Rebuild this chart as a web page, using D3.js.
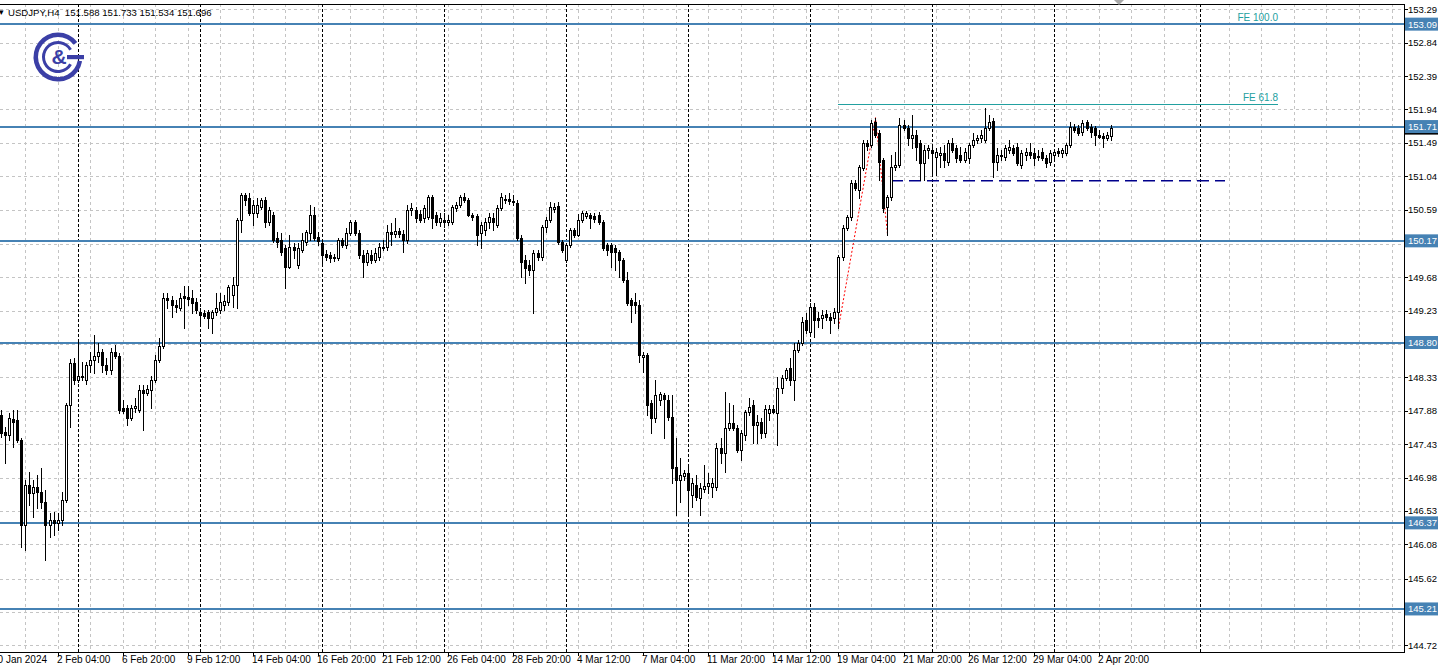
<!DOCTYPE html>
<html><head><meta charset="utf-8">
<script src="https://cdn.jsdelivr.net/npm/d3@7"></script>
<style>html,body{margin:0;padding:0;background:#fff;overflow:hidden}svg{display:block}text{font-family:"Liberation Sans",Arial,sans-serif}</style>
</head><body><svg id="c" width="1438" height="671"></svg>
<script>
// ---------------- data ----------------
const symbolTitle = "USDJPY,H4";
const lastOHLC = ["151.588", "151.733", "151.534", "151.696"];

const open = [
147.78,147.76,147.82,147.59,147.55,147.77,147.76,147.49,146.34,146.88,
146.77,146.85,146.79,146.65,146.34,146.41,146.37,146.41,146.68,147.96,
148.52,148.30,148.35,148.30,148.50,148.56,148.62,148.67,148.50,148.43,
148.67,148.62,147.92,147.92,147.78,147.92,147.89,148.16,148.12,148.16,
148.30,148.56,148.75,149.40,149.37,149.31,149.27,149.43,149.41,149.40,
149.35,149.21,149.20,149.21,149.13,149.21,149.24,149.31,149.35,149.44,
149.57,150.45,150.79,150.75,150.55,150.55,150.63,150.72,150.42,150.52,
150.21,150.18,150.07,149.82,150.09,149.84,150.05,150.15,150.28,150.52,
150.22,150.14,149.99,149.98,149.94,149.94,150.18,150.11,150.28,150.42,
150.28,149.98,149.88,149.98,149.91,149.95,150.09,150.09,150.29,150.26,
150.30,150.26,150.18,150.59,150.59,150.53,150.48,150.49,150.76,150.52,
150.42,150.45,150.42,150.42,150.61,150.65,150.76,150.72,150.52,150.50,
150.28,150.32,150.42,150.48,150.38,150.61,150.72,150.73,150.71,150.68,
150.21,149.91,149.84,149.78,150.01,149.95,150.36,150.45,150.60,150.64,
150.15,149.91,150.11,150.32,150.25,150.45,150.50,150.52,150.50,150.52,
150.42,150.11,150.11,150.07,150.02,149.91,149.64,149.37,149.35,149.31,
148.60,148.63,147.99,147.78,148.03,148.09,148.03,147.80,147.12,146.95,
147.00,147.04,146.75,146.88,146.70,146.83,146.87,146.85,146.85,147.38,
147.31,147.65,147.72,147.65,147.35,147.55,147.86,147.96,147.69,147.73,
147.58,147.85,147.90,147.85,148.19,148.32,148.46,148.30,148.70,148.79,
149.10,148.94,149.28,149.13,149.13,149.18,149.14,149.13,149.21,149.95,
150.34,150.49,150.95,150.86,151.15,151.49,151.46,151.77,151.62,151.26,
150.63,150.76,151.16,151.19,151.73,151.69,151.56,151.60,151.49,151.22,
151.39,151.39,151.30,151.33,151.35,151.23,151.49,151.42,151.33,151.26,
151.29,151.46,151.53,151.56,151.53,151.69,151.78,151.23,151.33,151.30,
151.39,151.42,151.43,151.19,151.33,151.37,151.35,151.30,151.37,151.29,
151.23,151.33,151.38,151.35,151.35,151.46,151.70,151.69,151.64,151.77,
151.70,151.69,151.60,151.58,151.56,151.588];

const high = [
147.86,147.89,147.89,147.66,147.85,147.89,147.89,147.51,146.95,147.05,
146.95,147.01,147.11,146.81,146.50,146.52,146.50,146.79,147.99,148.58,
148.59,148.83,148.54,148.54,148.67,148.90,148.79,148.71,148.59,148.73,
148.77,148.66,148.03,147.96,147.96,148.05,148.23,148.23,148.23,148.35,
148.63,148.86,149.47,149.47,149.43,149.37,149.47,149.56,149.56,149.51,
149.40,149.27,149.24,149.24,149.24,149.47,149.47,149.44,149.57,149.68,
150.48,150.81,150.81,150.81,150.72,150.75,150.75,150.76,150.63,150.56,
150.29,150.28,150.11,150.25,150.14,150.14,150.28,150.32,150.65,150.63,
150.29,150.18,150.05,150.02,149.99,150.21,150.21,150.34,150.45,150.45,
150.32,150.05,150.05,150.05,150.07,150.14,150.18,150.38,150.41,150.48,
150.34,150.32,150.65,150.68,150.63,150.59,150.65,150.79,150.79,150.56,
150.55,150.55,150.52,150.65,150.69,150.79,150.81,150.75,150.55,150.53,
150.42,150.48,150.55,150.55,150.65,150.81,150.79,150.81,150.79,150.72,
150.25,149.98,149.91,150.05,150.05,150.38,150.49,150.69,150.68,150.69,
150.18,150.14,150.34,150.34,150.53,150.57,150.57,150.55,150.55,150.56,
150.45,150.14,150.14,150.11,150.05,149.94,149.75,149.40,149.47,149.37,
148.67,148.66,148.03,148.30,148.13,148.12,148.09,148.09,147.51,147.24,
147.08,147.12,146.97,147.01,146.91,147.15,147.04,146.97,147.45,147.51,
148.13,147.99,147.96,147.69,147.62,147.89,148.05,148.03,147.82,147.78,
147.96,147.96,147.96,148.34,148.36,148.46,148.59,148.79,148.83,149.14,
149.20,149.33,149.33,149.21,149.24,149.24,149.20,149.27,149.98,150.38,
150.52,150.99,150.99,151.19,151.53,151.53,151.80,151.83,151.66,151.29,
150.79,151.33,151.37,151.83,151.80,151.73,151.87,151.66,151.53,151.46,
151.46,151.46,151.42,151.43,151.46,151.53,151.56,151.46,151.43,151.42,
151.49,151.62,151.60,151.66,151.96,151.87,151.83,151.42,151.39,151.46,
151.53,151.46,151.49,151.39,151.42,151.49,151.42,151.39,151.42,151.33,
151.39,151.39,151.42,151.42,151.49,151.77,151.74,151.73,151.80,151.80,
151.74,151.72,151.66,151.62,151.64,151.733];

const low = [
147.65,147.69,147.53,147.18,147.49,147.39,147.46,146.04,146.00,146.61,
146.45,146.57,146.57,145.87,146.18,146.21,146.27,146.34,146.65,147.66,
148.24,148.27,148.30,148.24,148.40,148.39,148.54,148.40,148.38,148.38,
148.59,147.85,147.85,147.69,147.76,147.86,147.86,147.62,148.09,147.92,
148.27,148.54,148.73,149.27,149.14,149.21,149.24,149.00,149.31,149.20,
149.20,149.06,149.13,149.00,148.93,149.17,149.20,149.24,149.31,149.28,
149.27,150.29,150.65,150.52,150.38,150.49,150.60,150.36,150.38,150.15,
150.09,149.98,149.53,149.80,149.94,149.80,150.02,150.11,150.18,150.18,
150.11,149.87,149.91,149.88,149.90,149.91,150.09,150.07,150.25,150.25,
149.94,149.68,149.84,149.87,149.88,149.91,150.05,150.05,150.11,150.22,
150.22,150.02,150.14,150.52,150.42,150.42,150.42,150.46,150.34,150.38,
150.37,150.36,150.38,150.40,150.57,150.63,150.69,150.50,150.45,150.11,
150.07,150.25,150.34,150.32,150.36,150.59,150.68,150.67,150.65,150.18,
149.68,149.60,149.71,149.20,149.91,149.91,150.29,150.42,150.56,150.13,
150.02,149.88,150.09,150.22,150.24,150.42,150.48,150.34,150.42,150.40,
150.05,149.98,149.82,149.78,149.68,149.62,149.31,149.08,149.20,148.54,
148.40,147.82,147.58,147.73,147.96,147.51,147.76,146.91,146.48,146.65,
146.95,146.50,146.58,146.68,146.48,146.79,146.77,146.72,146.81,147.18,
147.05,147.62,147.62,147.32,147.22,147.49,147.82,147.45,147.45,147.51,
147.53,147.76,147.85,147.42,148.12,148.30,148.23,148.03,148.67,148.77,
148.93,148.90,148.87,149.01,149.00,149.10,148.93,149.06,149.00,149.91,
150.32,150.45,150.86,150.75,151.12,151.39,151.43,151.57,150.99,150.56,
150.25,150.72,151.12,151.16,151.66,151.46,151.42,151.26,150.99,150.99,
151.29,151.06,151.06,151.16,151.16,151.19,151.37,151.23,151.23,151.23,
151.22,151.43,151.49,151.50,151.50,151.66,151.03,151.12,151.26,151.26,
151.35,151.33,151.19,151.15,151.26,151.29,151.19,151.26,151.26,151.16,
151.19,151.29,151.31,151.30,151.33,151.43,151.64,151.60,151.60,151.66,
151.57,151.46,151.56,151.43,151.53,151.534];

const close = [
147.76,147.82,147.58,147.55,147.78,147.73,147.49,146.34,146.88,146.77,
146.85,146.79,146.65,146.34,146.41,146.37,146.41,146.68,147.96,148.52,
148.30,148.35,148.34,148.50,148.56,148.62,148.67,148.50,148.43,148.67,
148.62,147.89,147.88,147.78,147.92,147.94,148.16,148.12,148.17,148.30,
148.56,148.75,149.40,149.37,149.31,149.28,149.40,149.40,149.39,149.33,
149.24,149.17,149.16,149.13,149.21,149.27,149.35,149.36,149.55,149.57,
150.45,150.79,150.72,150.55,150.65,150.65,150.72,150.42,150.59,150.18,
150.15,150.02,149.82,150.09,150.05,150.07,150.18,150.29,150.52,150.21,
150.17,149.98,149.95,149.94,149.95,150.18,150.11,150.28,150.42,150.28,
149.98,149.88,150.01,149.91,150.01,150.09,150.07,150.29,150.26,150.30,
150.26,150.18,150.59,150.61,150.48,150.45,150.61,150.76,150.48,150.42,
150.48,150.42,150.45,150.63,150.65,150.76,150.72,150.52,150.49,150.25,
150.38,150.42,150.49,150.42,150.61,150.76,150.73,150.71,150.69,150.21,
149.88,149.80,149.78,150.01,149.95,150.36,150.45,150.63,150.63,150.15,
150.05,150.11,150.32,150.25,150.45,150.55,150.55,150.48,150.46,150.42,
150.07,150.05,150.02,150.02,149.91,149.64,149.33,149.31,149.31,148.63,
148.63,147.96,147.78,148.09,148.11,148.04,147.80,147.11,146.95,147.01,
147.04,146.81,146.91,146.72,146.84,146.87,146.91,146.91,147.38,147.31,
147.65,147.72,147.65,147.35,147.58,147.86,147.93,147.69,147.73,147.58,
147.90,147.90,147.86,148.19,148.32,148.43,148.30,148.70,148.79,149.08,
148.97,149.28,149.10,149.10,149.17,149.14,149.10,149.21,149.95,150.34,
150.49,150.95,150.88,151.16,151.49,151.45,151.76,151.60,151.23,150.61,
150.76,151.16,151.19,151.73,151.69,151.56,151.60,151.43,151.22,151.39,
151.42,151.35,151.37,151.35,151.26,151.49,151.39,151.29,151.26,151.37,
151.46,151.53,151.56,151.60,151.69,151.77,151.23,151.33,151.31,151.42,
151.43,151.35,151.22,151.35,151.37,151.33,151.29,151.31,151.29,151.22,
151.35,151.37,151.35,151.39,151.46,151.70,151.66,151.62,151.76,151.69,
151.64,151.60,151.57,151.56,151.60,151.696];

// price axis tick labels
const priceTicks = ["153.29","152.84","152.39","151.94","151.49","151.04","150.59","150.13","149.68","149.23",
  "148.78","148.33","147.88","147.43","146.98","146.53","146.08","145.62","145.17","144.72"];
// horizontal level lines (price labels on axis)
const levelPrices = [153.09, 151.71, 150.17, 148.80, 146.37, 145.21];
const levelLabels = ["153.09","151.71","150.17","148.80","146.37","145.21"];
// time axis (bar index -> label)
const timeTickIdx = [0,16,32,48,64,80,96,112,128,144,160,176,192,208,224,240,256,272];
const timeTickText = ["30 Jan 2024","2 Feb 04:00","6 Feb 20:00","9 Feb 12:00","14 Feb 04:00","16 Feb 20:00",
  "21 Feb 12:00","26 Feb 04:00","28 Feb 20:00","4 Mar 12:00","7 Mar 04:00","11 Mar 20:00","14 Mar 12:00",
  "19 Mar 04:00","21 Mar 20:00","26 Mar 12:00","29 Mar 04:00","2 Apr 20:00"];
// weekly period separators (bar index)
const separatorIdx = [21,51,81,111,141,171,201,231,261,297];
// Fibonacci expansion anchors and levels
const feIdx = [208, 217, 220];
const fePrice = [149.00, 151.83, 150.26];
const feLevels = [61.8, 100.0];
const feEndIdx = 316;
// horizontal dashed trend line
const trendIdx = [221, 303];
const trendPrice = [150.98, 150.98];

// ---------------- chart ----------------
const svg = d3.select("#c");
const plotRight = 1404, plotTop = 4, plotBottom = 652;
const step = 4.0667;
const x = d3.scaleLinear().domain([0, 346]).range([-7.4, -7.4 + 346 * step]);
const y = d3.scaleLinear().domain([144.72, 153.29]).range([645.3, 9.3]);
const px = i => Math.round(x(i));
const py = p => Math.round(y(p));

svg.append("rect").attr("width", 1438).attr("height", 671).attr("fill", "#fff");

svg.append("defs").append("clipPath").attr("id", "plot")
  .append("rect").attr("x", 0).attr("y", plotTop).attr("width", plotRight).attr("height", plotBottom - plotTop);

const plot = svg.append("g").attr("clip-path", "url(#plot)").attr("shape-rendering", "crispEdges");

// grid
plot.append("g").selectAll("line").data(priceTicks).join("line")
  .attr("x1", 0).attr("x2", plotRight)
  .attr("y1", d => py(+d) + 0.5).attr("y2", d => py(+d) + 0.5)
  .attr("stroke", "#c4c4c4").attr("stroke-dasharray", "3,3");
plot.append("g").selectAll("line").data(d3.range(0, 346, 8)).join("line")
  .attr("x1", d => px(d) + 0.5).attr("x2", d => px(d) + 0.5)
  .attr("y1", plotTop).attr("y2", plotBottom)
  .attr("stroke", "#c4c4c4").attr("stroke-dasharray", "3,3");

// period separators
plot.append("g").selectAll("line").data(separatorIdx).join("line")
  .attr("x1", d => px(d) + 0.5).attr("x2", d => px(d) + 0.5)
  .attr("y1", plotTop).attr("y2", plotBottom)
  .attr("stroke", "#000").attr("stroke-dasharray", "3,2");

// Fibo expansion levels
const feColor = "#22a0a0";
const feRange = fePrice[1] - fePrice[0];
feLevels.forEach(l => {
  const p = fePrice[2] + feRange * l / 100;
  plot.append("line").attr("x1", px(feIdx[0])).attr("x2", px(feEndIdx))
    .attr("y1", py(p) + 0.5).attr("y2", py(p) + 0.5).attr("stroke", feColor);
  svg.append("text").attr("x", px(feEndIdx)).attr("y", py(p) - 3)
    .attr("text-anchor", "end").attr("font-size", 10).attr("fill", feColor)
    .text("FE " + l.toFixed(1));
});
// Fibo expansion anchor line (red dotted)
plot.append("path")
  .attr("d", d3.line().x((d, k) => px(feIdx[k]) + 0.5).y(d => y(d))(fePrice))
  .attr("fill", "none").attr("stroke", "#ff0000").attr("stroke-dasharray", "2,2")
  .attr("shape-rendering", "auto");

// horizontal levels
plot.append("g").selectAll("line").data(levelPrices).join("line")
  .attr("x1", 0).attr("x2", plotRight)
  .attr("y1", d => y(d)).attr("y2", d => y(d))
  .attr("stroke", "#4682b4").attr("stroke-width", 2);

// dashed trend line
plot.append("line")
  .attr("x1", px(trendIdx[0])).attr("x2", px(trendIdx[1]))
  .attr("y1", y(trendPrice[0])).attr("y2", y(trendPrice[1]))
  .attr("stroke", "#00008b").attr("stroke-width", 1.5).attr("stroke-dasharray", "12,6")
  .attr("shape-rendering", "auto");

// candles
const idx = d3.range(open.length);
const cg = plot.append("g");
cg.selectAll("line.w").data(idx).join("line").attr("class", "w")
  .attr("x1", i => px(i) + 0.5).attr("x2", i => px(i) + 0.5)
  .attr("y1", i => py(high[i])).attr("y2", i => py(low[i]) + 1)
  .attr("stroke", "#000");
idx.forEach(i => {
  const top = py(Math.max(open[i], close[i]));
  const bot = py(Math.min(open[i], close[i]));
  const bull = close[i] >= open[i];
  if (bot - top < 1) {
    cg.append("line").attr("x1", px(i) - 1).attr("x2", px(i) + 2)
      .attr("y1", top + 0.5).attr("y2", top + 0.5).attr("stroke", "#000");
  } else {
    cg.append("rect").attr("x", px(i) - 0.5).attr("y", top + 0.5)
      .attr("width", 2).attr("height", bot - top)
      .attr("fill", bull ? "#fff" : "#000").attr("stroke", "#000");
  }
});

// frame and axes
const ax = svg.append("g").attr("shape-rendering", "crispEdges");
ax.append("line").attr("x1", 0).attr("x2", plotRight + 1).attr("y1", plotTop + 0.5).attr("y2", plotTop + 0.5).attr("stroke", "#000");
ax.append("line").attr("x1", plotRight + 0.5).attr("x2", plotRight + 0.5).attr("y1", plotTop).attr("y2", plotBottom + 1).attr("stroke", "#000");
ax.append("line").attr("x1", 0).attr("x2", plotRight + 1).attr("y1", plotBottom + 0.5).attr("y2", plotBottom + 0.5).attr("stroke", "#000");

// price ticks
ax.selectAll("line.pt").data(priceTicks).join("line").attr("class", "pt")
  .attr("x1", plotRight).attr("x2", plotRight + 4)
  .attr("y1", d => py(+d) + 0.5).attr("y2", d => py(+d) + 0.5).attr("stroke", "#000");
// tick labels that sit under a level box are hidden (as on the terminal)
const visibleTicks = priceTicks.filter(t => levelPrices.every(l => Math.abs(y(+t) - y(l)) > 6));
svg.append("g").selectAll("text").data(visibleTicks).join("text")
  .attr("x", plotRight + 4).attr("y", d => y(+d) + 3.5)
  .attr("font-size", 9.5).attr("fill", "#000").text(d => d);

// current price (black) under level labels
svg.append("rect").attr("x", plotRight + 1).attr("y", y(+lastOHLC[3]) - 6).attr("width", 34).attr("height", 13).attr("fill", "#000");
// level labels
const lg = svg.append("g").selectAll("g").data(levelPrices).join("g");
lg.append("rect").attr("x", plotRight + 1).attr("y", d => y(d) - 6.5).attr("width", 34).attr("height", 13).attr("fill", "#4682b4");
lg.append("text").attr("x", plotRight + 4).attr("y", d => y(d) + 3.5)
  .attr("font-size", 9.5).attr("fill", "#fff").text((d, k) => levelLabels[k]);

// time ticks and labels
ax.selectAll("line.tt").data(timeTickIdx).join("line").attr("class", "tt")
  .attr("x1", i => px(i) + 0.5).attr("x2", i => px(i) + 0.5)
  .attr("y1", plotBottom).attr("y2", plotBottom + 4).attr("stroke", "#000");
svg.append("g").selectAll("text").data(timeTickIdx).join("text")
  .attr("x", i => px(i) - 1).attr("y", 663)
  .attr("font-size", 10).attr("fill", "#000").text((d, k) => timeTickText[k]);

// header
svg.append("text").attr("x", -1).attr("y", 15).attr("font-size", 9).text("▾");
svg.append("text").attr("x", 8).attr("y", 16).attr("font-size", 9.6).attr("fill", "#000")
  .attr("xml:space", "preserve")
  .text(symbolTitle + "  " + lastOHLC.join(" "));

// chart shift marker
svg.append("path").attr("d", "M1114,0 L1124,0 L1119,5 Z").attr("fill", "#a8a8a8");

// logo
const logoColor = "#3b3fa6";
const logo = svg.append("g").attr("transform", "translate(58,57)");
logo.append("path").attr("d", d3.arc().innerRadius(20).outerRadius(24.5)
  .startAngle(Math.PI * 100 / 180).endAngle(Math.PI * 412 / 180)()).attr("fill", logoColor);
logo.append("rect").attr("x", 9).attr("y", -2).attr("width", 17).attr("height", 4.2).attr("fill", logoColor);
logo.append("path").attr("d", d3.arc().innerRadius(13).outerRadius(16)
  .startAngle(Math.PI * 120 / 180).endAngle(Math.PI * 420 / 180)()).attr("fill", logoColor);
logo.append("text").attr("x", 1).attr("y", 7).attr("text-anchor", "middle")
  .attr("font-size", 21).attr("font-weight", "bold").attr("fill", logoColor).text("&");
</script>
</body></html>
